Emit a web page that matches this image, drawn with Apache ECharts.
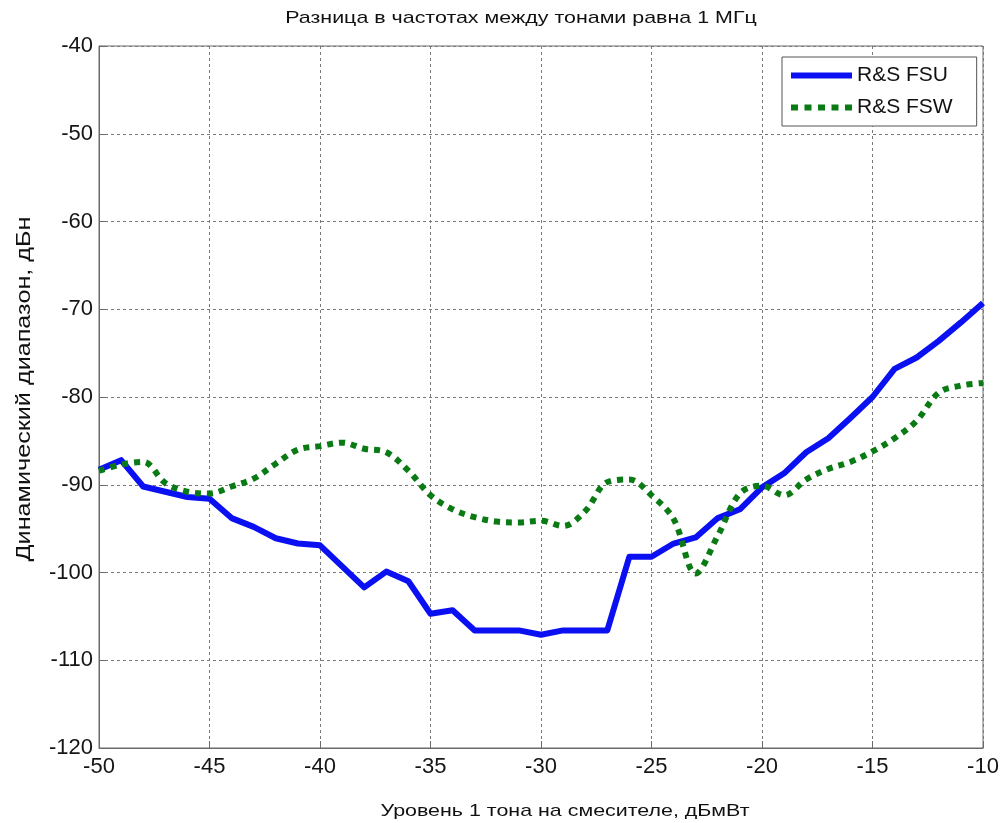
<!DOCTYPE html>
<html>
<head>
<meta charset="utf-8">
<script src="https://cdn.jsdelivr.net/npm/echarts@6/dist/echarts.min.js"></script>
<style>
  html, body { margin: 0; padding: 0; background: #fff; }
  #chart { width: 1005px; height: 823px; }
</style>
</head>
<body>
<div id="chart"></div>
<script>
// Tone level at the mixer, dBm
const toneLevel = [-50, -49, -48, -47, -46, -45, -44, -43, -42, -41, -40,
  -39, -38, -37, -36, -35, -34, -33, -32, -31, -30,
  -29, -28, -27, -26, -25, -24, -23, -22, -21, -20,
  -19, -18, -17, -16, -15, -14, -13, -12, -11, -10];

// Dynamic range, dBc
const fsuRange = [-88.3, -87.2, -90.2, -90.8, -91.4, -91.6, -93.8, -94.8, -96.1, -96.7, -96.9,
  -99.3, -101.7, -99.9, -101.0, -104.7, -104.3, -106.6, -106.6, -106.6, -107.1,
  -106.6, -106.6, -106.6, -98.2, -98.2, -96.7, -96.0, -93.8, -92.8, -90.3,
  -88.7, -86.3, -84.7, -82.4, -80.0, -76.8, -75.5, -73.6, -71.5, -69.3];

const fswRange = [-88.4, -87.7, -87.4, -89.8, -90.8, -91.0, -90.2, -89.3, -87.6, -86.0, -85.6,
  -85.2, -85.9, -86.3, -88.4, -91.2, -92.8, -93.7, -94.2, -94.3, -94.1,
  -94.7, -93.0, -89.7, -89.4, -91.2, -93.9, -100.1, -95.8, -91.0, -90.1,
  -91.2, -89.4, -88.2, -87.4, -86.2, -84.7, -82.7, -79.5, -78.7, -78.4];

const seriesNames = ['R&S FSU', 'R&S FSW'];
const yTicks = [-120, -110, -100, -90, -80, -70, -60, -50, -40];
const xTicks = [-50, -45, -40, -35, -30, -25, -20, -15, -10];

const titleText = 'Разница в частотах между тонами равна 1 МГц';
const xName = 'Уровень 1 тона на смесителе, дБмВт';
const yName = 'Динамический диапазон, дБн';

const pairs = (xs, ys) => xs.map((x, i) => [x, ys[i]]);

const FONT = 'Liberation Sans, Arial, sans-serif';
const BLUE = '#0a10f2';
const GREEN = '#0a7a14';

// legend samples: a solid bar and a row of square dots
const solidIcon = 'path://M0,0 L61,0 L61,6 L0,6 Z';
const dottedIcon = 'path://M0,0h7v6h-7z M13.5,0h7v6h-7z M27,0h7v6h-7z M40.5,0h7v6h-7z M54,0h7v6h-7z';

const chart = echarts.init(document.getElementById('chart'), null, { renderer: 'canvas' });
const gridLine = { show: true, lineStyle: { color: '#7a7a7a', type: [3, 3], width: 1 } };

// wide-set caption text
function caption(text, x, y, size, rot) {
  return {
    type: 'text', x: x, y: y, rotation: rot || 0, scaleX: 1.26, scaleY: 1,
    silent: true,
    style: {
      text: text, fontFamily: FONT, fontSize: size, fill: '#111',
      align: 'center', verticalAlign: 'middle',
      textAlign: 'center', textVerticalAlign: 'middle'
    }
  };
}

chart.setOption({
  backgroundColor: '#ffffff',
  animation: false,
  graphic: [
    caption(titleText, 521, 18, 17),
    caption(xName, 565, 811, 17),
    caption(yName, 24, 389, 20, Math.PI / 2)
  ],
  legend: {
    orient: 'vertical',
    left: 782, top: 57,
    padding: [8, 24, 8, 9],
    itemGap: 11,
    itemWidth: 61, itemHeight: 6,
    backgroundColor: '#fff',
    borderColor: '#555', borderWidth: 1,
    textStyle: { fontFamily: FONT, fontSize: 21, color: '#111' },
    data: [
      { name: seriesNames[0], icon: solidIcon },
      { name: seriesNames[1], icon: dottedIcon }
    ]
  },
  grid: {
    left: 99, right: 22, top: 46, bottom: 75,
    show: true, borderColor: '#6b6b6b', borderWidth: 1
  },
  xAxis: {
    type: 'value', min: xTicks[0], max: xTicks[xTicks.length - 1], interval: 5,
    axisLine: { show: true, lineStyle: { color: '#6b6b6b' } },
    axisTick: { show: true, inside: true, length: 7, lineStyle: { color: '#6b6b6b' } },
    axisLabel: { fontFamily: FONT, fontSize: 22, color: '#151515', margin: 8 },
    splitLine: gridLine
  },
  yAxis: {
    type: 'value', min: yTicks[0], max: yTicks[yTicks.length - 1], interval: 10,
    axisLine: { show: true, lineStyle: { color: '#6b6b6b' } },
    axisTick: { show: true, inside: true, length: 7, lineStyle: { color: '#6b6b6b' } },
    axisLabel: { fontFamily: FONT, fontSize: 22, color: '#151515', margin: 6 },
    splitLine: gridLine
  },
  series: [
    {
      name: seriesNames[0], type: 'line',
      data: pairs(toneLevel, fsuRange),
      symbol: 'none',
      lineStyle: { color: BLUE, width: 6, join: 'round' },
      itemStyle: { color: BLUE }
    },
    {
      name: seriesNames[1], type: 'line',
      data: pairs(toneLevel, fswRange),
      symbol: 'none', smooth: 0.35,
      lineStyle: { color: GREEN, width: 6, type: [6, 6], cap: 'butt' },
      itemStyle: { color: GREEN }
    }
  ]
});
</script>
</body>
</html>
